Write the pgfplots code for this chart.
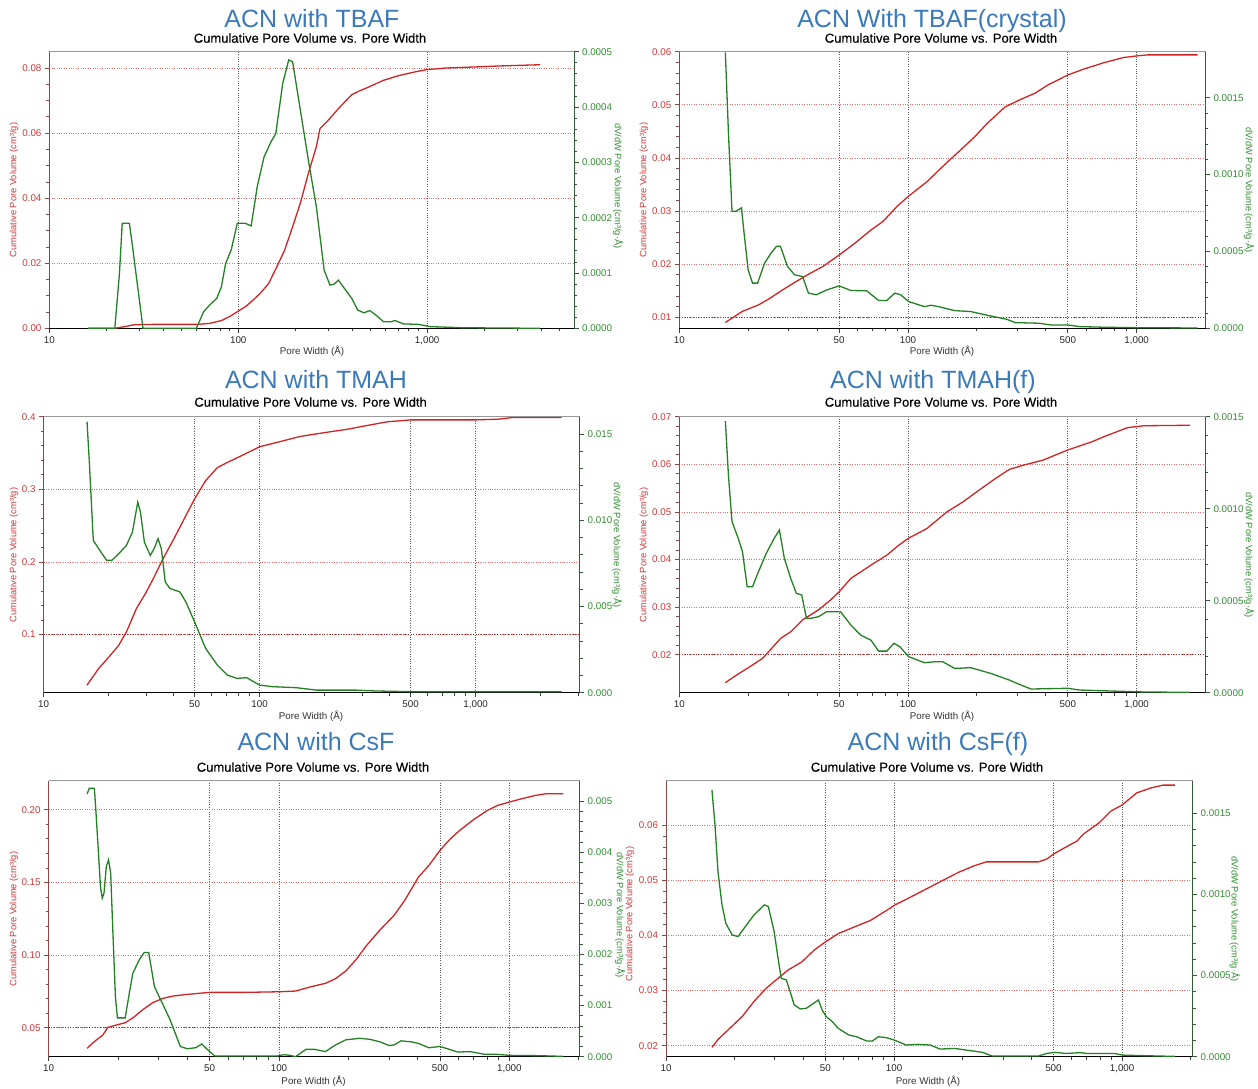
\documentclass[border=0pt]{standalone}
\usepackage{fontspec}
\setmainfont{Liberation Sans}
\newfontfamily\subff{Liberation Sans}[FakeBold=0.35]
\usepackage{pgfplots}
\pgfplotsset{compat=1.18}
\definecolor{ttl}{RGB}{59,122,186}
\definecolor{cred}{RGB}{208,36,36}
\definecolor{cgreen}{RGB}{36,128,36}
\definecolor{lax}{RGB}{140,70,70}
\definecolor{rax}{RGB}{52,92,52}
\definecolor{ltick}{RGB}{205,55,55}
\definecolor{rtick}{RGB}{50,140,50}
\definecolor{hgrid}{RGB}{226,110,110}
\definecolor{dgrid}{RGB}{150,40,40}
\definecolor{vgrid}{RGB}{90,90,90}
\pgfplotsset{
 pvbase/.style={scale only axis, xmin=10, anchor=south west, axis line style={-},
   tick align=outside, major tick length=4.5pt, minor tick length=3pt,
   /pgf/number format/assume math mode=true, scaled y ticks=false,
   tick label style={font=\fontsize{9.8}{11}\selectfont}},
 pvleft/.style={pvbase, axis x line*=bottom, axis y line*=left,
   x axis line style={black, line width=1pt}, y axis line style={lax, line width=1pt},
   ytick style={lax, line width=0.7pt}, xtick style={black!75, line width=0.7pt},
   yticklabel style={text=ltick, /pgf/number format/fixed, /pgf/number format/fixed zerofill, /pgf/number format/precision=#1},
   xticklabel style={text=black!85},
   ymajorgrids, xmajorgrids,
   major y grid style={hgrid, dotted, line width=0.7pt},
   major x grid style={vgrid, dotted, line width=0.7pt},
   minor y tick num=4},
 pvright/.style={pvbase, axis x line*=top, axis y line*=right, xtick=\empty,
   x axis line style={black!40, line width=1pt}, y axis line style={rax, line width=1pt},
   ytick style={rax, line width=0.7pt},
   yticklabel style={text=rtick, /pgf/number format/fixed, /pgf/number format/fixed zerofill, /pgf/number format/precision=#1},
   minor y tick num=4},
 darkline/.style={extra y ticks={#1}, extra y tick labels={},
   extra y tick style={ymajorgrids=true, major y grid style={dgrid, dotted, line width=0.9pt}}},
 redc/.style={cred, line width=1.3pt, mark=none},
 grnc/.style={cgreen, line width=1.3pt, mark=none},
}
\newcommand{\ttlfont}{\fontsize{25}{28}\selectfont}
\newcommand{\subfont}{\subff\fontsize{13}{15}\selectfont}
\newcommand{\labfont}{\fontsize{9.3}{10}\selectfont}
\newcommand{\xlabfont}{\fontsize{9.8}{11}\selectfont}
\begin{document}
\begin{tikzpicture}
\useasboundingbox (0,0) rectangle (1258pt,1088pt);
% ---------------- Panel 1 ----------------
\begin{axis}[xmode=log, pvleft=2, at={(49.4pt,759.7pt)}, width=524.7pt, height=276.6pt, xmax=6000,
  ymin=0, ymax=0.085, ytick={0,0.02,0.04,0.06,0.08}, minor y tick num=3,
  xtick={10,100,1000}, xticklabels={10,100,{1,000}},
  minor xtick={20,30,40,50,60,70,80,90,200,300,400,500,600,700,800,900,2000,3000,4000,5000}]
\addplot[redc] coordinates {(16,0)(22.2,0)(25,0.0005)(28.2,0.0011)(35,0.0012)(50,0.0012)(61,0.0012)(70.5,0.0015)(81.6,0.0024)(90,0.0036)(98.9,0.0051)(110,0.0068)(120,0.0087)(132,0.011)(145,0.0138)(160,0.0189)(176,0.024)(194,0.0312)(213,0.0384)(235,0.0476)(259,0.0558)(271,0.0614)(299,0.0639)(345,0.068)(399,0.0718)(440,0.073)(484,0.074)(587,0.0762)(712,0.0777)(864,0.0788)(1000,0.0795)(1276,0.080)(1780,0.0803)(2382,0.0806)(3970,0.081)};
\end{axis}
\begin{axis}[xmode=log, pvright=4, at={(49.4pt,759.7pt)}, width=524.7pt, height=276.6pt, xmax=6000,
  ymin=0, ymax=0.0005, ytick={0,0.0001,0.0002,0.0003,0.0004,0.0005}]
\addplot[grnc] coordinates {(16,0)(22.2,0)(23.5,0.0001)(24.3,0.00019)(26.5,0.00019)(27.5,0.00015)(31.3,0)(60,0)(65.6,0.00003)(70.5,0.000042)(76.9,0.000054)(81.4,0.000075)(85.7,0.000117)(91.8,0.000142)(98.8,0.00019)(108.7,0.00019)(117,0.000185)(126,0.000256)(137,0.00031)(149,0.000337)(158,0.000352)(172,0.000443)(185,0.000485)(194,0.000482)(213,0.000395)(235,0.000304)(259,0.00022)(285,0.000105)(306,0.000078)(322,0.00008)(339,0.000087)(365,0.000072)(399,0.000054)(429,0.000033)(462,0.000028)(497,0.000032)(535,0.000024)(587,0.000012)(646,0.000012)(676,0.000014)(748,0.000008)(904,0.000007)(1040,0.000003)(1546,0.000001)(3970,0)};
\end{axis}
% ---------------- Panel 2 ----------------
\begin{axis}[xmode=log, pvleft=2, darkline=0.01, at={(679.3pt,759.7pt)}, width=526.2pt, height=276.6pt, xmax=2000,
  ymin=0.0079, ymax=0.06, ytick={0.01,0.02,0.03,0.04,0.05,0.06},
  xtick={10,50,100,500,1000}, xticklabels={10,50,100,500,{1,000}},
  minor xtick={20,30,40,60,70,80,90,200,300,400,600,700,800,900}]
\addplot[redc] coordinates {(15.9,0.0090)(17.0,0.0098)(18.9,0.0111)(22.2,0.0123)(25.0,0.0136)(28.2,0.0151)(33.3,0.0170)(37.5,0.0183)(42.3,0.0195)(50,0.0217)(58.5,0.0239)(68.8,0.0264)(77.6,0.0280)(89.3,0.0308)(100,0.0327)(121,0.0355)(142,0.0384)(167,0.0412)(196,0.0440)(222,0.0465)(266,0.0496)(307,0.0509)(360,0.0522)(408,0.0537)(499,0.0556)(585,0.0567)(715,0.0579)(875,0.0589)(1000,0.0592)(1113,0.0594)(1846,0.0594)};
\end{axis}
\begin{axis}[xmode=log, pvright=4, at={(679.3pt,759.7pt)}, width=526.2pt, height=276.6pt, xmax=2000,
  ymin=0, ymax=0.0018, ytick={0,0.0005,0.001,0.0015}]
\addplot[grnc] coordinates {(15.9,0.001796)(16.4,0.001274)(17.0,0.000762)(17.7,0.000762)(18.7,0.000784)(19.2,0.00062)(20.0,0.000381)(20.9,0.000294)(22.0,0.000294)(23.6,0.000424)(25.2,0.00049)(26.6,0.000533)(27.7,0.000533)(29.7,0.000403)(31.9,0.000348)(34.6,0.000337)(36.7,0.000229)(39.7,0.000218)(44.2,0.00025)(50,0.000276)(56.2,0.000246)(66.0,0.000244)(74.4,0.000181)(80.8,0.000181)(87.6,0.000229)(92.9,0.000218)(100.6,0.000174)(118,0.000141)(126,0.00015)(136,0.000141)(160,0.000115)(188,0.000109)(230,0.00008)(270,0.000059)(294,0.000037)(373,0.000033)(420,0.000022)(499,0.000022)(563,0.000011)(715,0.000007)(1000,0.000004)(1846,0.000002)};
\end{axis}
% ---------------- Panel 3 ----------------
\begin{axis}[xmode=log, pvleft=1, darkline=0.1, at={(43.5pt,395.3pt)}, width=536.2pt, height=276pt, xmax=3030,
  ymin=0.02, ymax=0.4, ytick={0.1,0.2,0.3,0.4},
  xtick={10,50,100,500,1000}, xticklabels={10,50,100,500,{1,000}},
  minor xtick={20,30,40,60,70,80,90,200,300,400,600,700,800,900,2000,3000}]
\addplot[redc] coordinates {(15.9,0.0304)(18.0,0.0533)(20.4,0.0716)(22.3,0.0854)(24.2,0.1037)(26.9,0.1357)(29.9,0.1586)(32.5,0.1792)(35.4,0.202)(40.1,0.2318)(45.6,0.2638)(50,0.2867)(56.3,0.312)(63.8,0.330)(70.9,0.337)(82.1,0.346)(100,0.3586)(120,0.3645)(154,0.3728)(199,0.378)(256,0.3828)(316,0.388)(390,0.393)(501,0.3956)(644,0.3956)(1000,0.3956)(1270,0.3966)(1500,0.399)(2500,0.399)};
\end{axis}
\begin{axis}[xmode=log, pvright=3, at={(43.5pt,395.3pt)}, width=536.2pt, height=276pt, xmax=3030,
  ymin=0, ymax=0.016, ytick={0,0.005,0.01,0.015}]
\addplot[grnc] coordinates {(15.9,0.01572)(16.3,0.01336)(17.0,0.00883)(18.0,0.00835)(19.6,0.00767)(20.7,0.00767)(22.3,0.00806)(24.2,0.00854)(25.8,0.00931)(27.3,0.01105)(28.1,0.01047)(29.3,0.00873)(31.2,0.00796)(32.5,0.00835)(33.9,0.00893)(35.1,0.00835)(36.6,0.00642)(38.5,0.00604)(42.8,0.00584)(45.6,0.00526)(50,0.00411)(56.3,0.00256)(63.8,0.0016)(70.9,0.00102)(78.6,0.00083)(87.2,0.00087)(100,0.00044)(115,0.00035)(148,0.00029)(183,0.00015)(278,0.00015)(345,0.0001)(501,0.00006)(2500,0.00006)};
\end{axis}
% ---------------- Panel 4 ----------------
\begin{axis}[xmode=log, pvleft=2, darkline=0.02, at={(679.3pt,395.3pt)}, width=526.2pt, height=276pt, xmax=2000,
  ymin=0.012, ymax=0.07, ytick={0.02,0.03,0.04,0.05,0.06,0.07},
  xtick={10,50,100,500,1000}, xticklabels={10,50,100,500,{1,000}},
  minor xtick={20,30,40,60,70,80,90,200,300,400,600,700,800,900}]
\addplot[redc] coordinates {(15.9,0.0141)(17.4,0.0154)(20.4,0.0175)(23.1,0.0192)(25.0,0.021)(27.7,0.0234)(30.7,0.0248)(34.6,0.0273)(40.6,0.0294)(45.9,0.0315)(50,0.0332)(56.2,0.036)(68.8,0.0388)(80.8,0.0409)(91.2,0.043)(100,0.0444)(121,0.0465)(148,0.050)(174,0.0521)(205,0.0546)(241,0.057)(277,0.0589)(319,0.0598)(391,0.0609)(499,0.063)(635,0.0647)(746,0.0661)(913,0.0677)(1074,0.0681)(1708,0.0682)};
\end{axis}
\begin{axis}[xmode=log, pvright=4, at={(679.3pt,395.3pt)}, width=526.2pt, height=276pt, xmax=2000,
  ymin=0, ymax=0.0015, ytick={0,0.0005,0.001,0.0015}]
\addplot[grnc] coordinates {(15.9,0.001476)(16.4,0.001183)(17.0,0.00093)(18.1,0.000839)(18.9,0.000766)(19.8,0.000576)(20.9,0.000576)(22.2,0.000658)(24.0,0.000757)(26.0,0.000839)(27.4,0.000884)(28.8,0.00073)(30.7,0.000621)(32.5,0.00054)(34.3,0.000531)(36.0,0.000404)(37.5,0.000404)(40.6,0.000413)(44.0,0.00044)(50.7,0.00044)(56.2,0.000368)(62.1,0.000313)(68.8,0.000286)(74.4,0.000226)(80.8,0.000226)(86.8,0.000268)(92.1,0.00025)(100.6,0.000196)(118,0.000163)(131,0.000168)(142,0.000168)(160,0.000132)(188,0.000136)(230,0.000105)(277,0.000069)(299,0.000051)(345,0.00002)(499,0.000024)(563,0.0000145)(780,0.000009)(1074,0.000004)(1708,0.000002)};
\end{axis}
% ---------------- Panel 5 ----------------
\begin{axis}[xmode=log, pvleft=2, darkline=0.05, at={(48.6pt,31.3pt)}, width=531.1pt, height=276pt, xmax=2020,
  ymin=0.03, ymax=0.22, ytick={0.05,0.1,0.15,0.2},
  xtick={10,50,100,500,1000}, xticklabels={10,50,100,500,{1,000}},
  minor xtick={20,30,40,60,70,80,90,200,300,400,600,700,800,900,2000}]
\addplot[redc] coordinates {(14.7,0.0358)(15.8,0.0404)(17.2,0.045)(18.1,0.0502)(19.7,0.0518)(21.5,0.0534)(23.4,0.0571)(25.5,0.0621)(28.3,0.0672)(31.4,0.0702)(34.8,0.0718)(40.0,0.0729)(50,0.0743)(71.8,0.0743)(100,0.0747)(118,0.0752)(138,0.0782)(159,0.0805)(176,0.0837)(195,0.089)(216,0.0968)(240,0.1066)(275,0.1174)(316,0.1273)(351,0.1375)(403,0.1536)(447,0.1616)(500,0.172)(550,0.1794)(609,0.1858)(698,0.1931)(802,0.1995)(889,0.203)(1000,0.2053)(1132,0.2076)(1300,0.2099)(1443,0.211)(1714,0.211)};
\end{axis}
\begin{axis}[xmode=log, pvright=3, at={(48.6pt,31.3pt)}, width=531.1pt, height=276pt, xmax=2020,
  ymin=0, ymax=0.0054, ytick={0,0.001,0.002,0.003,0.004,0.005}]
\addplot[grnc] coordinates {(14.7,0.00514)(15.0,0.00525)(15.8,0.00525)(16.0,0.00489)(16.4,0.00411)(16.8,0.00332)(17.1,0.0031)(17.4,0.0032)(17.8,0.00372)(18.2,0.00385)(18.6,0.00359)(19.0,0.00248)(19.5,0.00117)(19.9,0.00076)(21.5,0.00076)(22.4,0.00124)(23.2,0.00163)(24.7,0.00189)(26.0,0.00204)(27.2,0.00204)(28.8,0.00137)(30.9,0.00108)(33.7,0.00072)(37.3,0.0002)(40.0,0.000156)(43.5,0.000176)(46.2,0.000248)(49.2,0.00013)(52.7,0.000013)(98,0.000013)(105,0.000039)(112,0.000026)(118,0)(131,0.000143)(143,0.000143)(159,0.0001)(176,0.00023)(195,0.00033)(224,0.00036)(248,0.00034)(275,0.00029)(300,0.00022)(316,0.00023)(339,0.00031)(376,0.00029)(403,0.00026)(447,0.000176)(500,0.0002)(550,0.000143)(598,0.00009)(675,0.0001)(774,0.00005)(889,0.000046)(1000,0.000026)(1346,0.00002)(1714,0.000007)};
\end{axis}
% ---------------- Panel 6 ----------------
\begin{axis}[xmode=log, pvleft=2, at={(666pt,31.3pt)}, width=526.7pt, height=276pt, xmax=2040,
  ymin=0.018, ymax=0.068, ytick={0.02,0.03,0.04,0.05,0.06},
  xtick={10,50,100,500,1000}, xticklabels={10,50,100,500,{1,000}},
  minor xtick={20,30,40,60,70,80,90,200,300,400,600,700,800,900,2000}]
\addplot[redc] coordinates {(15.9,0.0197)(16.9,0.0211)(19.1,0.0232)(21.6,0.0253)(24.3,0.028)(27.5,0.0304)(31.0,0.0322)(34.3,0.0337)(39.5,0.0352)(44.6,0.0373)(50,0.0388)(56.9,0.0403)(66.9,0.0415)(78.9,0.0427)(92.7,0.0445)(100,0.0454)(117.9,0.0469)(138.6,0.0484)(163,0.0499)(191.7,0.0514)(225,0.0526)(254,0.0533)(324,0.0533)(430,0.0533)(467,0.0538)(500,0.0547)(551,0.0557)(636,0.0571)(675,0.0583)(795,0.0604)(893,0.0625)(1000,0.0636)(1160,0.0658)(1340,0.0667)(1510,0.0672)(1705,0.0672)};
\end{axis}
\begin{axis}[xmode=log, pvright=4, at={(666pt,31.3pt)}, width=526.7pt, height=276pt, xmax=2040,
  ymin=0, ymax=0.0017, ytick={0,0.0005,0.001,0.0015}]
\addplot[grnc] coordinates {(15.9,0.001644)(16.4,0.001428)(16.9,0.00114)(17.6,0.000935)(18.3,0.000822)(19.5,0.00075)(20.7,0.00074)(22.0,0.000791)(24.3,0.000873)(27.0,0.000935)(28.1,0.000925)(29.8,0.000771)(31.0,0.000606)(32.0,0.000483)(33.7,0.000473)(35.0,0.000401)(36.5,0.000319)(38.8,0.000294)(41.2,0.000298)(46.6,0.000349)(48.4,0.000288)(50.4,0.000247)(53.6,0.000216)(56.9,0.000175)(63.2,0.000134)(68.5,0.000123)(75.7,0.000097)(80.4,0.000097)(85.4,0.000123)(92.7,0.000117)(100,0.000103)(113,0.000072)(127,0.000076)(144,0.000072)(159,0.000047)(184,0.000051)(207,0.000041)(244,0.000027)(269,0.000004)(430,0.000004)(467,0.00002)(506,0.000027)(569,0.00002)(658,0.000025)(698,0.00002)(930,0.00002)(1000,0.00001)(1272,0.000006)(1705,0.000002)};
\end{axis}
% ---------------- Text ----------------
\node[anchor=base, text=ttl, font=\ttlfont] at (312pt,1060pt) {ACN with TBAF};
\node[anchor=base, text=ttl, font=\ttlfont] at (932pt,1060pt) {ACN With TBAF(crystal)};
\node[anchor=base, text=ttl, font=\ttlfont] at (316pt,699pt) {ACN with TMAH};
\node[anchor=base, text=ttl, font=\ttlfont] at (933pt,699pt) {ACN with TMAH(f)};
\node[anchor=base, text=ttl, font=\ttlfont] at (316pt,338pt) {ACN with CsF};
\node[anchor=base, text=ttl, font=\ttlfont] at (938pt,338pt) {ACN with CsF(f)};
\node[anchor=base, font=\subfont] at (310pt,1045.3pt) {Cumulative Pore Volume vs. Pore Width};
\node[anchor=base, font=\subfont] at (941pt,1045.3pt) {Cumulative Pore Volume vs. Pore Width};
\node[anchor=base, font=\subfont] at (310.6pt,681.3pt) {Cumulative Pore Volume vs. Pore Width};
\node[anchor=base, font=\subfont] at (941pt,681.3pt) {Cumulative Pore Volume vs. Pore Width};
\node[anchor=base, font=\subfont] at (313pt,316.3pt) {Cumulative Pore Volume vs. Pore Width};
\node[anchor=base, font=\subfont] at (927pt,316.3pt) {Cumulative Pore Volume vs. Pore Width};
\node[anchor=base, font=\xlabfont, text=black!80] at (312pt,733pt) {Pore Width (Å)};
\node[anchor=base, font=\xlabfont, text=black!80] at (942pt,733pt) {Pore Width (Å)};
\node[anchor=base, font=\xlabfont, text=black!80] at (311pt,368pt) {Pore Width (Å)};
\node[anchor=base, font=\xlabfont, text=black!80] at (942pt,368pt) {Pore Width (Å)};
\node[anchor=base, font=\xlabfont, text=black!80] at (313.6pt,4pt) {Pore Width (Å)};
\node[anchor=base, font=\xlabfont, text=black!80] at (928pt,4pt) {Pore Width (Å)};
\node[rotate=90, font=\labfont, text=ltick] at (14pt,898pt) {Cumulative Pore Volume (cm³/g)};
\node[rotate=90, font=\labfont, text=ltick] at (644pt,898pt) {Cumulative Pore Volume (cm³/g)};
\node[rotate=90, font=\labfont, text=ltick] at (14pt,533pt) {Cumulative Pore Volume (cm³/g)};
\node[rotate=90, font=\labfont, text=ltick] at (644pt,533pt) {Cumulative Pore Volume (cm³/g)};
\node[rotate=90, font=\labfont, text=ltick] at (14pt,169pt) {Cumulative Pore Volume (cm³/g)};
\node[rotate=90, font=\labfont, text=ltick] at (630pt,174pt) {Cumulative Pore Volume (cm³/g)};
\node[rotate=-90, font=\labfont, text=rtick] at (618pt,902pt) {dV/dW Pore Volume (cm³/g·Å)};
\node[rotate=-90, font=\labfont, text=rtick] at (1249pt,898pt) {dV/dW Pore Volume (cm³/g·Å)};
\node[rotate=-90, font=\labfont, text=rtick] at (617pt,543pt) {dV/dW Pore Volume (cm³/g·Å)};
\node[rotate=-90, font=\labfont, text=rtick] at (1249pt,533pt) {dV/dW Pore Volume (cm³/g·Å)};
\node[rotate=-90, font=\labfont, text=rtick] at (620pt,173pt) {dV/dW Pore Volume (cm³/g·Å)};
\node[rotate=-90, font=\labfont, text=rtick] at (1234.7pt,169pt) {dV/dW Pore Volume (cm³/g·Å)};
\end{tikzpicture}
\end{document}
